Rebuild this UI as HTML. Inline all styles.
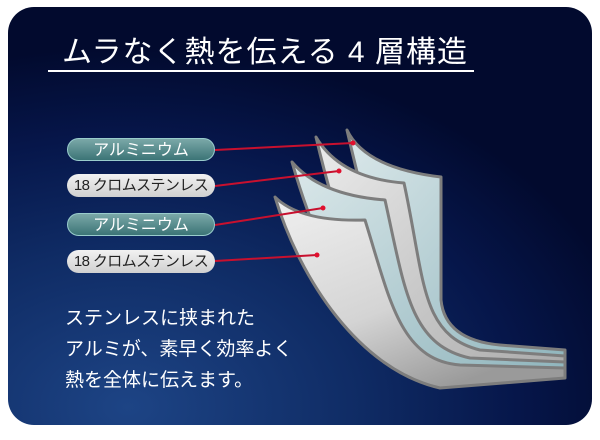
<!DOCTYPE html>
<html><head><meta charset="utf-8"><style>
html,body{margin:0;padding:0;background:#fff;}
body{width:600px;height:440px;position:relative;overflow:hidden;font-family:"Liberation Sans","Noto Sans CJK JP",sans-serif;}
.card{position:absolute;left:8px;top:7px;width:584px;height:418px;border-radius:26px;
background:radial-gradient(ellipse 520px 360px at 120px 400px,#1d4485 0%,#0f2b64 45%,#06164a 75%,#020a2e 100%);overflow:hidden;}
.title{position:absolute;left:62px;width:392px;top:27px;text-align:center;color:#fff;font-size:30px;letter-spacing:1px;white-space:nowrap;}
.ul{position:absolute;left:48px;top:70px;width:426px;height:2px;background:#fff;}
.pill{position:absolute;left:67px;width:148px;height:23px;border-radius:12px;font-size:16px;line-height:23px;text-align:center;white-space:nowrap;}
.al{background:linear-gradient(#7aa8a8,#3b7476);color:#fff;border:1px solid #9cc;box-sizing:border-box;}
.st{background:linear-gradient(#f2f2f2,#d0d0d0);color:#222;font-size:15px;letter-spacing:-0.6px;}
.body{position:absolute;left:65px;top:303px;color:#fff;font-size:19px;line-height:31px;}
</style></head><body>
<div class="card"></div>
<div class="title">ムラなく熱を伝える 4 層構造</div>
<div class="ul"></div>
<svg width="600" height="440" style="position:absolute;left:0;top:0">
<defs>
<linearGradient id="ta" x1="0" y1="0" x2="1" y2="1"><stop offset="0" stop-color="#dbe8ea"/><stop offset="1" stop-color="#8db3bb"/></linearGradient>
<linearGradient id="gr" x1="0" y1="0" x2="1" y2="1"><stop offset="0" stop-color="#ececec"/><stop offset="1" stop-color="#a8a8a8"/></linearGradient>
<linearGradient id="fr" x1="0" y1="0" x2="0.6" y2="1"><stop offset="0" stop-color="#f0f0f0"/><stop offset="0.6" stop-color="#d4d4d4"/><stop offset="1" stop-color="#9a9a9a"/></linearGradient>
</defs>
<g stroke="#7d7d7d" stroke-width="3" stroke-linejoin="round">
<path d="M347,130 Q365,168 441,177 L441,300 Q445,340 500,345 L565,350 L565,358 L440,382 C400,340 370,230 347,130 Z" fill="url(#ta)"/>
<path d="M316,137 Q340,178 404,183 C425,280 420,335 480,350 L565,356 L565,364 L440,384 C380,350 340,240 316,137 Z" fill="url(#gr)"/>
<path d="M292,162 Q320,195 385,200 C405,290 410,345 470,358 L565,362 L565,370 L440,386 C370,360 320,260 292,162 Z" fill="url(#ta)"/>
<path d="M275,197 Q300,222 365,220 C390,300 400,360 460,365 L565,368 L565,378 L440,388 C360,370 300,280 275,197 Z" fill="url(#fr)"/>
</g>
<g stroke="#c8102e" stroke-width="2">
<line x1="215" y1="150" x2="353" y2="143"/>
<line x1="215" y1="186" x2="339" y2="171"/>
<line x1="215" y1="225" x2="323" y2="208"/>
<line x1="215" y1="261" x2="317" y2="255"/>
</g>
<g fill="#e0102e"><circle cx="353" cy="143" r="2.5"/><circle cx="339" cy="171" r="2.5"/><circle cx="323" cy="208" r="2.5"/><circle cx="317" cy="255" r="2.5"/></g>
</svg>
<div class="pill al" style="top:138px">アルミニウム</div>
<div class="pill st" style="top:174px">18 クロムステンレス</div>
<div class="pill al" style="top:213px">アルミニウム</div>
<div class="pill st" style="top:250px">18 クロムステンレス</div>
<div class="body">ステンレスに挟まれた<br>アルミが、素早く効率よく<br>熱を全体に伝えます。</div>
</body></html>
